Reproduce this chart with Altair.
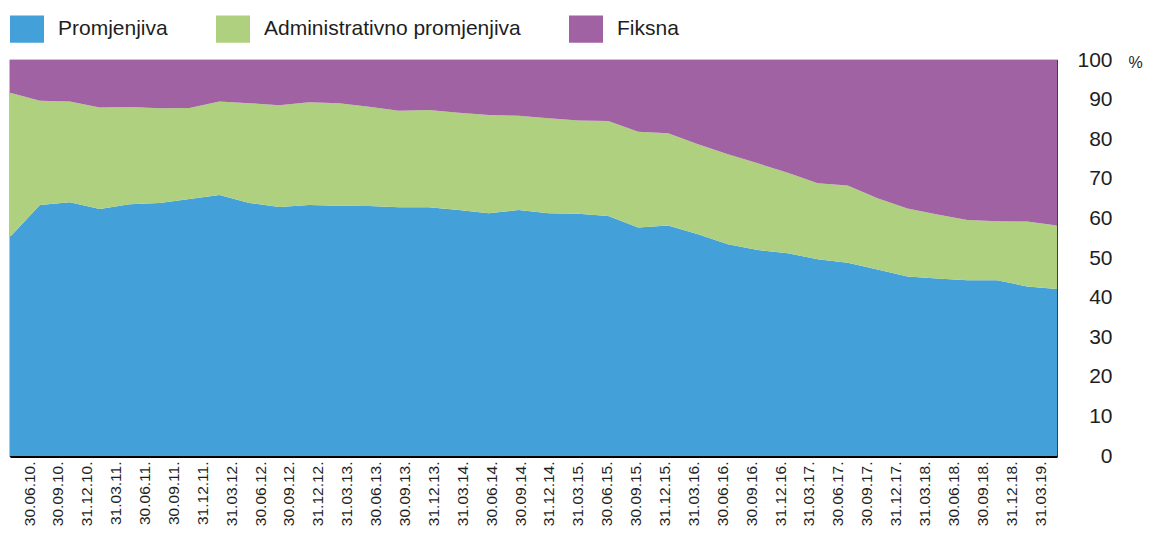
import altair as alt
import pandas as pd

dates = ["30.06.10.", "30.09.10.", "31.12.10.", "31.03.11.", "30.06.11.", "30.09.11.",
         "31.12.11.", "31.03.12.", "30.06.12.", "30.09.12.", "31.12.12.", "31.03.13.",
         "30.06.13.", "30.09.13.", "31.12.13.", "31.03.14.", "30.06.14.", "30.09.14.",
         "31.12.14.", "31.03.15.", "30.06.15.", "30.09.15.", "31.12.15.", "31.03.16.",
         "30.06.16.", "30.09.16.", "31.12.16.", "31.03.17.", "30.06.17.", "30.09.17.",
         "31.12.17.", "31.03.18.", "30.06.18.", "30.09.18.", "31.12.18.", "31.03.19."]

promjenjiva = [55.3, 63.4, 64.1, 62.4, 63.6, 63.9, 64.9, 65.9, 63.9, 62.9, 63.4, 63.2,
               63.1, 62.8, 62.8, 62.1, 61.3, 62.1, 61.3, 61.2, 60.6, 57.7, 58.2, 56.0,
               53.5, 52.0, 51.2, 49.7, 48.8, 47.1, 45.3, 44.8, 44.4, 44.4, 42.8, 42.2]

administrativno = [36.4, 26.3, 25.4, 25.6, 24.5, 23.9, 23.0, 23.6, 25.2, 25.7, 25.9, 25.9,
                   25.1, 24.4, 24.6, 24.6, 24.8, 23.8, 24.0, 23.5, 24.0, 24.2, 23.3, 22.7,
                   22.7, 21.9, 20.3, 19.2, 19.5, 18.0, 17.2, 16.2, 15.2, 14.9, 16.4, 16.0]

fiksna = [8.3, 10.3, 10.5, 12.0, 11.9, 12.2, 12.1, 10.5, 10.9, 11.4, 10.7, 10.9,
          11.8, 12.8, 12.6, 13.3, 13.9, 14.1, 14.7, 15.3, 15.4, 18.1, 18.5, 21.3,
          23.8, 26.1, 28.5, 31.1, 31.7, 34.9, 37.5, 39.0, 40.4, 40.7, 40.8, 41.8]

series_names = ["Promjenjiva", "Administrativno promjenjiva", "Fiksna"]
series_colors = ["#43a0d8", "#afd07e", "#a162a4"]
y_ticks = [0, 10, 20, 30, 40, 50, 60, 70, 80, 90, 100]

rows = []
for k, (name, vals) in enumerate(zip(series_names, [promjenjiva, administrativno, fiksna])):
    for d, v in zip(dates, vals):
        rows.append({"date": d, "series": name, "value": v, "ord": k})
df = pd.DataFrame(rows)

FONT = "Liberation Sans"
TXT = "#1e1e1e"

chart = alt.Chart(df).mark_area(interpolate="linear", opacity=1).encode(
    x=alt.X("date:N", sort=dates, scale=alt.Scale(type="point", padding=0),
            axis=alt.Axis(title=None, labelAngle=270, labelAlign="right", labelBaseline="middle",
                          labelPadding=5, ticks=False, labelFontSize=15.5, labelFont=FONT,
                          labelColor=TXT, labelOverlap=False, domainColor="#000000",
                          labelOffset={"expr": "19 - 36 * datum.index"},
                          domainWidth=3, grid=False)),
    y=alt.Y("value:Q", stack="zero", scale=alt.Scale(domain=[0, 100], nice=False),
            axis=alt.Axis(orient="right", values=y_ticks, title="%", titleAngle=0,
                          titleX=78, titleY=2, titleAlign="center", titleBaseline="middle",
                          titleFontSize=16, titleFontWeight="normal", titleFont=FONT,
                          titleColor=TXT, labelAlign="right", labelBaseline="middle",
                          labelPadding=55, ticks=False, domain=False, grid=False,
                          labelFontSize=21, labelFont=FONT, labelColor=TXT)),
    color=alt.Color("series:N", sort=series_names,
                    scale=alt.Scale(domain=series_names, range=series_colors),
                    legend=alt.Legend(title=None, orient="none", direction="horizontal",
                                      legendX=0, legendY=-48,
                                      symbolType="M-1,-0.8L1,-0.8L1,0.8L-1,0.8Z",
                                      symbolSize=1156, symbolStrokeWidth=0, symbolOpacity=1,
                                      labelFontSize=21, labelFont=FONT, labelColor=TXT,
                                      labelLimit=0, labelOffset=14, columnPadding=48)),
    order=alt.Order("ord:Q", sort="ascending"),
).properties(
    width=1047, height=396,
    autosize=alt.AutoSizeParams(type="none"),
    padding={"left": 2, "top": 52, "right": 87, "bottom": 74},
).configure_view(stroke="#2b2b2b", strokeWidth=1.2)

chart.save("out.html", embed_options={"renderer": "svg", "actions": False})
